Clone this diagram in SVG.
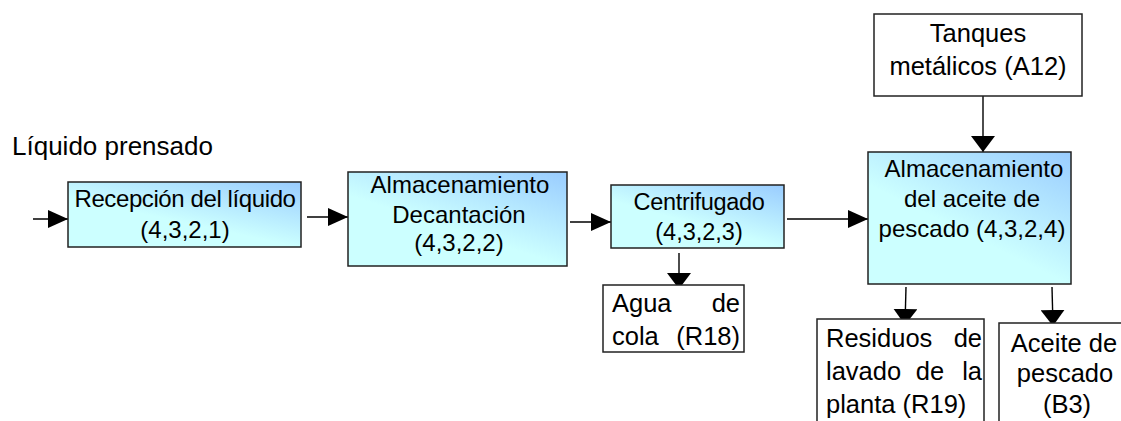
<svg xmlns="http://www.w3.org/2000/svg" width="1121" height="421" viewBox="0 0 1121 421">
<defs>
<linearGradient id="g" x1="1" y1="0" x2="0.35" y2="0.85">
<stop offset="0" stop-color="#99CCFF"/>
<stop offset="0.75" stop-color="#CCFFFF"/>
<stop offset="1" stop-color="#CCFFFF"/>
</linearGradient>
<marker id="ah" markerUnits="userSpaceOnUse" markerWidth="20" markerHeight="18" refX="20" refY="9" orient="auto">
<path d="M0,0 L20,9 L0,18 Z" fill="#000"/>
</marker>
<marker id="av" markerUnits="userSpaceOnUse" markerWidth="16" markerHeight="24" refX="16" refY="12" orient="auto">
<path d="M0,0 L16,12 L0,24 Z" fill="#000"/>
</marker>
<style>
text{font-family:"Liberation Sans",Arial,sans-serif;font-size:24px;fill:#000}
.c{text-anchor:middle}
.e{text-anchor:end}
.s22{font-size:23.5px}
.s25{font-size:25.5px}
.s26{font-size:26px}
.p{fill:url(#g);stroke:#222;stroke-width:1.5}
.w{fill:#fff;stroke:#222;stroke-width:1.5}
.l{stroke:#000;stroke-width:1.4;fill:none}
</style>
</defs>
<rect width="1121" height="421" fill="#fff"/>
<text class="s26" x="12" y="155">Líquido prensado</text>
<g id="connectors">
<line class="l" x1="33" y1="219" x2="68" y2="219" marker-end="url(#ah)"/>
<line class="l" x1="307" y1="217" x2="348" y2="217" marker-end="url(#ah)"/>
<line class="l" x1="570" y1="222" x2="611" y2="222" marker-end="url(#ah)"/>
<line class="l" x1="787" y1="219" x2="868" y2="219" marker-end="url(#ah)"/>
<line class="l" x1="679" y1="253" x2="679" y2="289" marker-end="url(#av)"/>
<line class="l" x1="983" y1="96" x2="983" y2="152" marker-end="url(#av)"/>
<line class="l" x1="906" y1="287" x2="905" y2="325" marker-end="url(#av)"/>
<line class="l" x1="1052" y1="287" x2="1053" y2="326" marker-end="url(#av)"/>
</g>
<g id="n1">
<rect class="p" x="68" y="182" width="233" height="65"/>
<text class="c" x="185" y="207" letter-spacing="-0.4">Recepción del líquido</text>
<text class="c" x="185" y="238">(4,3,2,1)</text>
</g>
<g id="n2">
<rect class="p" x="348" y="172" width="219" height="94"/>
<text class="c" x="460" y="193">Almacenamiento</text>
<text class="c" x="459" y="223">Decantación</text>
<text class="c" x="459" y="251">(4,3,2,2)</text>
</g>
<g id="n3">
<rect class="p" x="611" y="185" width="173" height="63"/>
<text class="c s22" x="699" y="210" letter-spacing="-0.3">Centrifugado</text>
<text class="c s22" x="699" y="240">(4,3,2,3)</text>
</g>
<g id="n4">
<rect class="w" x="603" y="285" width="141" height="67"/>
<text class="s25" x="612" y="312">Agua</text>
<text class="e s25" x="740" y="312">de</text>
<text class="s25" x="612" y="345">cola</text>
<text class="e s25" x="740" y="345">(R18)</text>
</g>
<g id="n5">
<rect class="w" x="874" y="14" width="208" height="82"/>
<text class="c s25" x="978" y="42">Tanques</text>
<text class="c s25" x="978" y="75">metálicos (A12)</text>
</g>
<g id="n6">
<rect class="p" x="868" y="152" width="203" height="132"/>
<text class="c" x="974" y="177">Almacenamiento</text>
<text class="c" x="972" y="207">del aceite de</text>
<text class="c" x="972" y="237">pescado (4,3,2,4)</text>
</g>
<g id="n7">
<rect class="w" x="817" y="319" width="167" height="120"/>
<text class="s25" x="826" y="347">Residuos</text>
<text class="e s25" x="982" y="347">de</text>
<text class="s25" x="826" y="380">lavado</text>
<text class="c s25" x="930" y="380">de</text>
<text class="e s25" x="982" y="380">la</text>
<text class="s25" x="826" y="413">planta (R19)</text>
</g>
<g id="n8">
<rect class="w" x="999" y="323" width="140" height="120"/>
<text class="c s25" x="1064" y="352">Aceite de</text>
<text class="c s25" x="1065" y="382">pescado</text>
<text class="c s25" x="1067" y="413">(B3)</text>
</g>
</svg>
